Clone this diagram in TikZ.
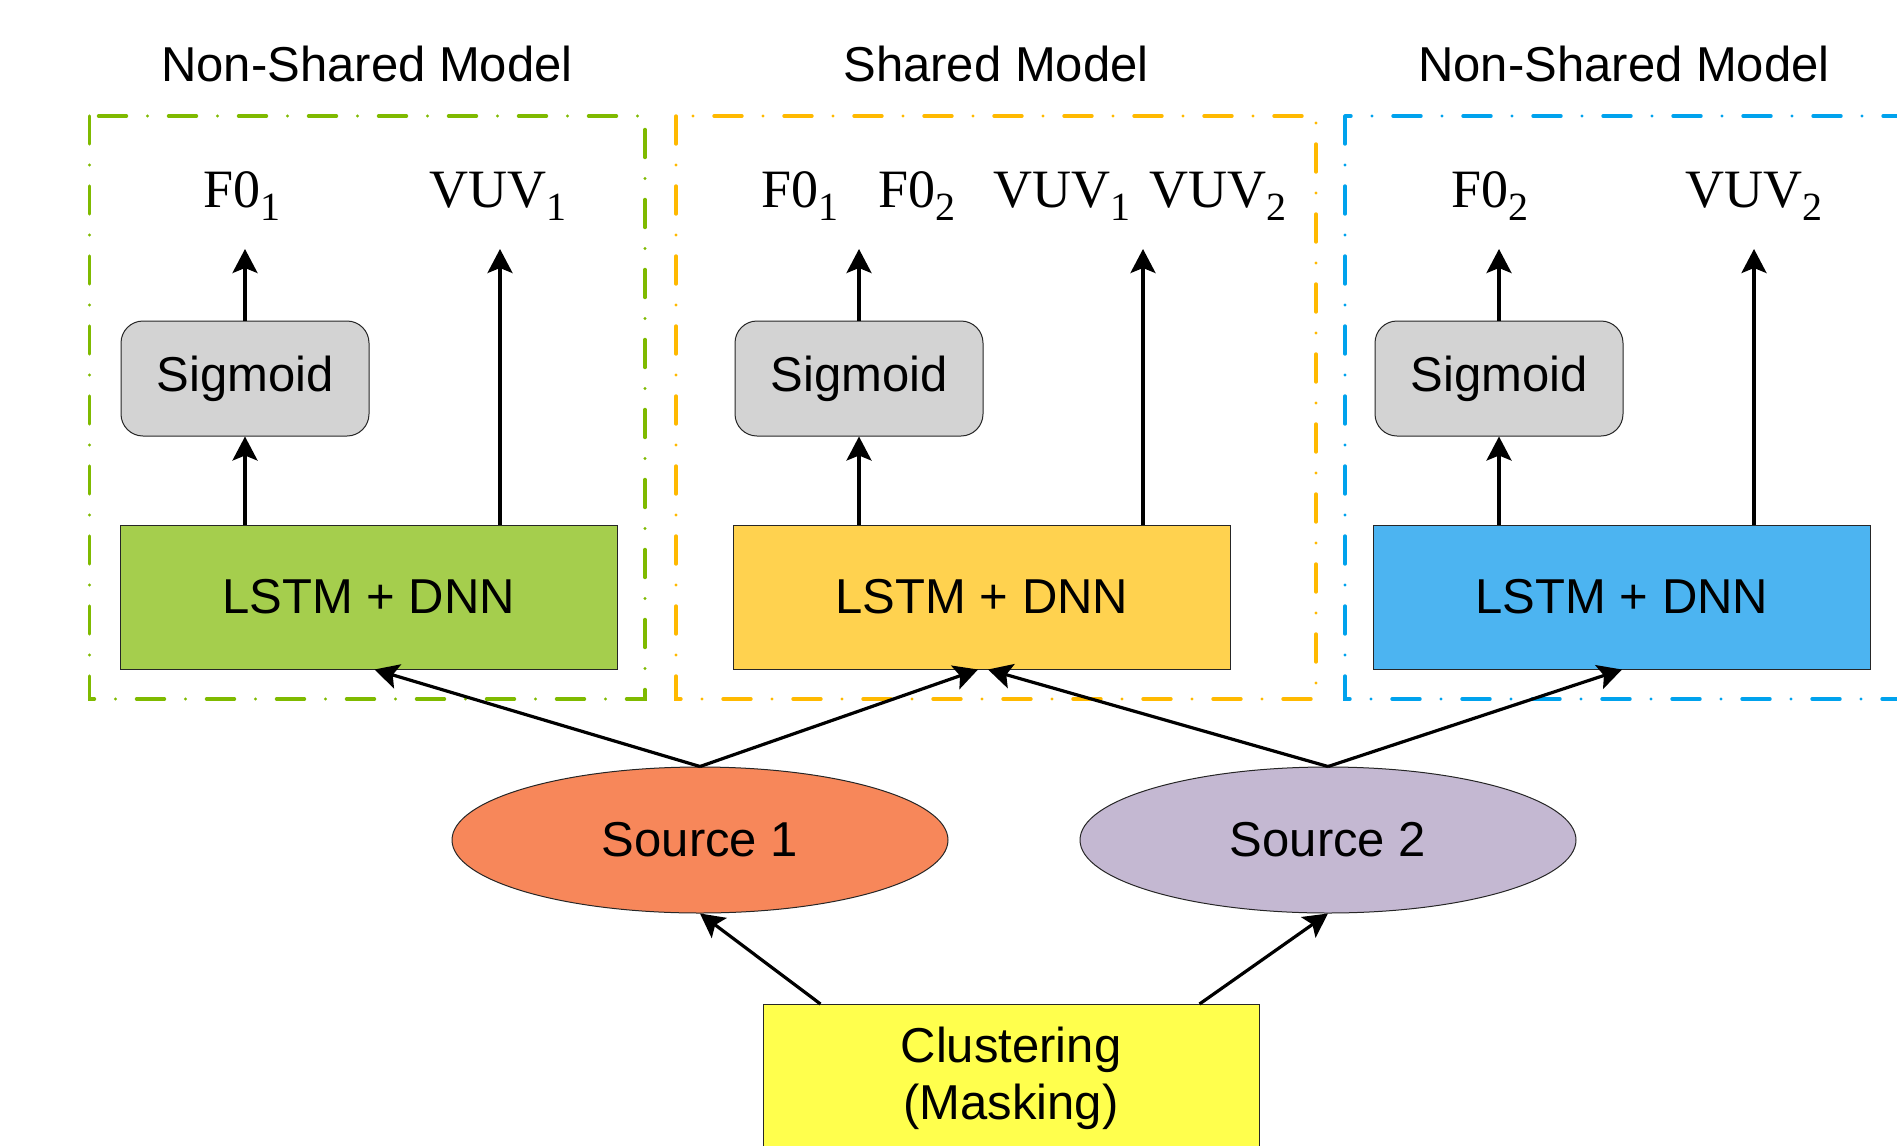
\documentclass[tikz,border=0pt]{standalone}
\usepackage{fontspec}
\setmainfont{Liberation Sans}
\newfontfamily\outfont{Liberation Serif}
\usetikzlibrary{arrows.meta,shapes.geometric,calc}

\definecolor{greenframe}{HTML}{7FBA00}
\definecolor{orangeframe}{HTML}{FFB900}
\definecolor{blueframe}{HTML}{00A2ED}
\definecolor{netgreen}{HTML}{A5CE4D}
\definecolor{netorange}{HTML}{FFD24F}
\definecolor{netblue}{HTML}{4CB4F1}
\definecolor{srcone}{HTML}{F7875A}
\definecolor{srctwo}{HTML}{C4B8D2}
\definecolor{clustfill}{HTML}{FFFF4D}
\definecolor{sigfill}{HTML}{D3D3D3}

% output label with a lowered index
\newcommand{\outlabel}[2]{#1\raisebox{-0.24em}{\fontsize{20}{20}\selectfont #2}}

\begin{document}
\begin{tikzpicture}[x=0.5pt,y=-0.5pt,
  txt/.style={font=\fontsize{24.5}{28.5}\selectfont},
  outlbl/.style={font=\outfont\fontsize{27}{31}\selectfont, inner sep=0pt},
  frame/.style={line width=1.7pt, line cap=round,
    dash pattern=on 14pt off 10.5pt on 0pt off 10.5pt},
  sigbox/.style={txt, draw=black!85, line width=0.5pt, fill=sigfill, rounded corners=11pt,
    minimum width=124pt, minimum height=57.5pt, inner sep=0pt},
  netbox/.style={txt, draw=black!85, line width=0.5pt, minimum width=248.5pt,
    minimum height=72pt, inner sep=0pt},
  srcnode/.style={txt, ellipse, draw=black!85, line width=0.5pt, minimum width=248pt,
    minimum height=73pt, inner sep=0pt},
  arr/.style={-{Stealth[length=12pt,width=12.5pt,inset=2.5pt]}, line width=1.6pt},
]
\useasboundingbox (0,0) rectangle (1897,1146);
\clip (0,0) rectangle (1897,1146);

% group frames
\draw[frame, greenframe] (89.5,116) rectangle (645,699);
\draw[frame, orangeframe] (676,116) rectangle (1316,699);
\draw[frame, blueframe] (1345,116) rectangle (1990,699);

% group titles
\node[txt] (titleA) at (367,64) {Non-Shared Model};
\node[txt] (titleB) at (996,64) {Shared Model};
\node[txt] (titleC) at (1624,64) {Non-Shared Model};

% networks
\node[netbox, fill=netgreen] (lstmA) at (368.5,597) {LSTM + DNN};
\node[netbox, fill=netorange] (lstmB) at (982,597) {LSTM + DNN};
\node[netbox, fill=netblue] (lstmC) at (1622,597) {LSTM + DNN};

% sigmoid blocks
\node[sigbox] (sigA) at (245,378.5) {Sigmoid};
\node[sigbox] (sigB) at (859,378.5) {Sigmoid};
\node[sigbox] (sigC) at (1499,378.5) {Sigmoid};

% outputs
\node[outlbl] (fA) at (242,196) {\outlabel{F0}{1}};
\node[outlbl] (vA) at (498,196) {\outlabel{VUV}{1}};
\node[outlbl] (fB1) at (800,196) {\outlabel{F0}{1}};
\node[outlbl] (fB2) at (917,196) {\outlabel{F0}{2}};
\node[outlbl] (vB1) at (1062,196) {\outlabel{VUV}{1}};
\node[outlbl] (vB2) at (1218,196) {\outlabel{VUV}{2}};
\node[outlbl] (fC) at (1490,196) {\outlabel{F0}{2}};
\node[outlbl] (vC) at (1754,196) {\outlabel{VUV}{2}};

% sources and clustering
\node[srcnode, fill=srcone] (src1) at (700,840) {Source 1};
\node[srcnode, fill=srctwo] (src2) at (1328,840) {Source 2};
\node[draw=black!85, line width=0.5pt, fill=clustfill, minimum width=248pt,
  minimum height=100pt, anchor=north, inner sep=0pt] (clust) at (1011,1004) {};
\node[txt, align=center] (clusttext) at (1011,1078) {Clustering\\(Masking)};

% vertical connectors
\foreach \n in {A,B,C}{
  \draw[arr] (sig\n.south |- lstm\n.north) -- (sig\n.south);
  \draw[arr] (sig\n.north) -- (sig\n.north |- 0,249);
}
\draw[arr] (500,0 |- lstmA.north) -- (500,249);
\draw[arr] (1143,0 |- lstmB.north) -- (1143,249);
\draw[arr] (1754,0 |- lstmC.north) -- (1754,249);

% sources to networks
\draw[arr] (src1.north) -- ([xshift=3pt]lstmA.south);
\draw[arr] (src1.north) -- ([xshift=-2pt]lstmB.south);
\draw[arr] (src2.north) -- ([xshift=3pt]lstmB.south);
\draw[arr] (src2.north) -- (lstmC.south);

% clustering to sources
\draw[arr] ([xshift=29pt]clust.north west) -- (src1.south);
\draw[arr] ([xshift=-30pt]clust.north east) -- (src2.south);
\end{tikzpicture}
\end{document}
